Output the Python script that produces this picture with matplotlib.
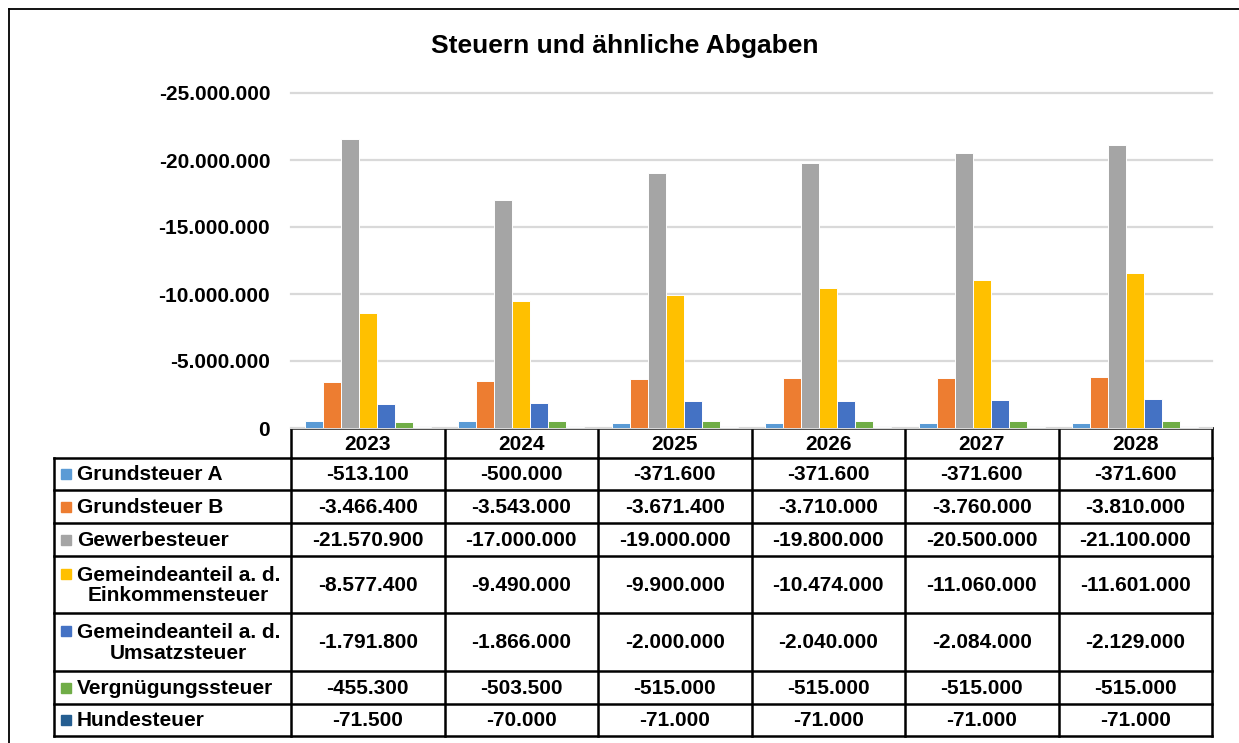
import matplotlib
matplotlib.use('Agg')
import matplotlib.pyplot as plt
from matplotlib.patches import Rectangle

plt.rcParams['font.family'] = ['Liberation Sans', 'DejaVu Sans']

years = ['2023', '2024', '2025', '2026', '2027', '2028']
series_names = ['Grundsteuer A', 'Grundsteuer B', 'Gewerbesteuer',
                'Gemeindeanteil a. d.\nEinkommensteuer',
                'Gemeindeanteil a. d.\nUmsatzsteuer',
                'Vergnügungssteuer', 'Hundesteuer']
colors = ['#5B9BD5', '#ED7D31', '#A5A5A5', '#FFC000', '#4472C4', '#70AD47', '#255E91']

grundsteuer_a = [-513100, -500000, -371600, -371600, -371600, -371600]
grundsteuer_b = [-3466400, -3543000, -3671400, -3710000, -3760000, -3810000]
gewerbesteuer = [-21570900, -17000000, -19000000, -19800000, -20500000, -21100000]
anteil_est = [-8577400, -9490000, -9900000, -10474000, -11060000, -11601000]
anteil_ust = [-1791800, -1866000, -2000000, -2040000, -2084000, -2129000]
vergnuegung = [-455300, -503500, -515000, -515000, -515000, -515000]
hundesteuer = [-71500, -70000, -71000, -71000, -71000, -71000]
values = [grundsteuer_a, grundsteuer_b, gewerbesteuer, anteil_est,
          anteil_ust, vergnuegung, hundesteuer]

yticks = [0, -5000000, -10000000, -15000000, -20000000, -25000000]


def de_fmt(v):
    return f'{v:,.0f}'.replace(',', '.')


W, H = 1239, 743
fig = plt.figure(figsize=(W / 100, H / 100), dpi=100)

# pixel-coordinate overlay for frame + table
ov = fig.add_axes([0, 0, 1, 1])
ov.set_xlim(0, W)
ov.set_ylim(H, 0)
ov.axis('off')

# chart frame (cropped: only top and left edges visible)
ov.plot([9, W], [9, 9], color='black', lw=1.3)
ov.plot([9, 9], [9, H], color='black', lw=1.3)

ov.text(625, 46, 'Steuern und ähnliche Abgaben', ha='center', va='center',
        fontsize=19, fontweight='bold')

# bar axes
x0, x1 = 291, 1212
y_top, y0 = 93, 428
ax = fig.add_axes([x0 / W, (H - y0) / H, (x1 - x0) / W, (y0 - y_top) / H])
ax.set_xlim(-0.5, len(years) - 0.5)
ax.set_ylim(0, -25000000)
nb = len(values)
bw = 0.117
for i, (vals, c) in enumerate(zip(values, colors)):
    xs = [k + (i - (nb - 1) / 2) * bw for k in range(len(years))]
    ax.bar(xs, vals, width=bw, color=c, edgecolor='white', linewidth=0.7, zorder=3)
ax.set_yticks(yticks)
ax.set_yticklabels([de_fmt(t) for t in yticks], fontsize=15, fontweight='bold')
ax.tick_params(axis='y', length=0, pad=15)
ax.set_xticks([])
ax.grid(axis='y', color='#D9D9D9', lw=1.6, zorder=0)
for s in ax.spines.values():
    s.set_visible(False)
for gl in ax.get_ygridlines():
    gl.set_clip_on(False)

# data table
col_w = (x1 - x0) / len(years)
col_x = [x0 + k * col_w for k in range(len(years) + 1)]
row_y = [458, 490, 523, 556, 613, 671, 704, 736]
head_top = 428
tx0 = 54
lw = 1.8

# header
ov.plot([x0, x1], [head_top, head_top], color='black', lw=lw)
for cx in col_x:
    ov.plot([cx, cx], [head_top, row_y[0]], color='black', lw=lw)
for k, yr in enumerate(years):
    ov.text(col_x[k] + col_w / 2, (head_top + row_y[0]) / 2 + 1, yr,
            ha='center', va='center', fontsize=15, fontweight='bold')

# body lines
for ry in row_y:
    ov.plot([tx0, x1], [ry, ry], color='black', lw=lw)
for cx in [tx0] + col_x:
    ov.plot([cx, cx], [row_y[0], row_y[-1]], color='black', lw=lw)

for r, (name, vals, c) in enumerate(zip(series_names, values, colors)):
    ym = (row_y[r] + row_y[r + 1]) / 2
    two = '\n' in name
    key_y = ym - 11 if two else ym
    ov.add_patch(Rectangle((61, key_y - 5), 10, 10, color=c))
    ov.text(77, ym + 1, name, ha='left', va='center', multialignment='center',
            fontsize=15, fontweight='bold', linespacing=1.12)
    for k, v in enumerate(vals):
        ov.text(col_x[k] + col_w / 2, ym + 1, de_fmt(v), ha='center', va='center',
                fontsize=15, fontweight='bold')

fig.savefig('out.png', dpi=100)
